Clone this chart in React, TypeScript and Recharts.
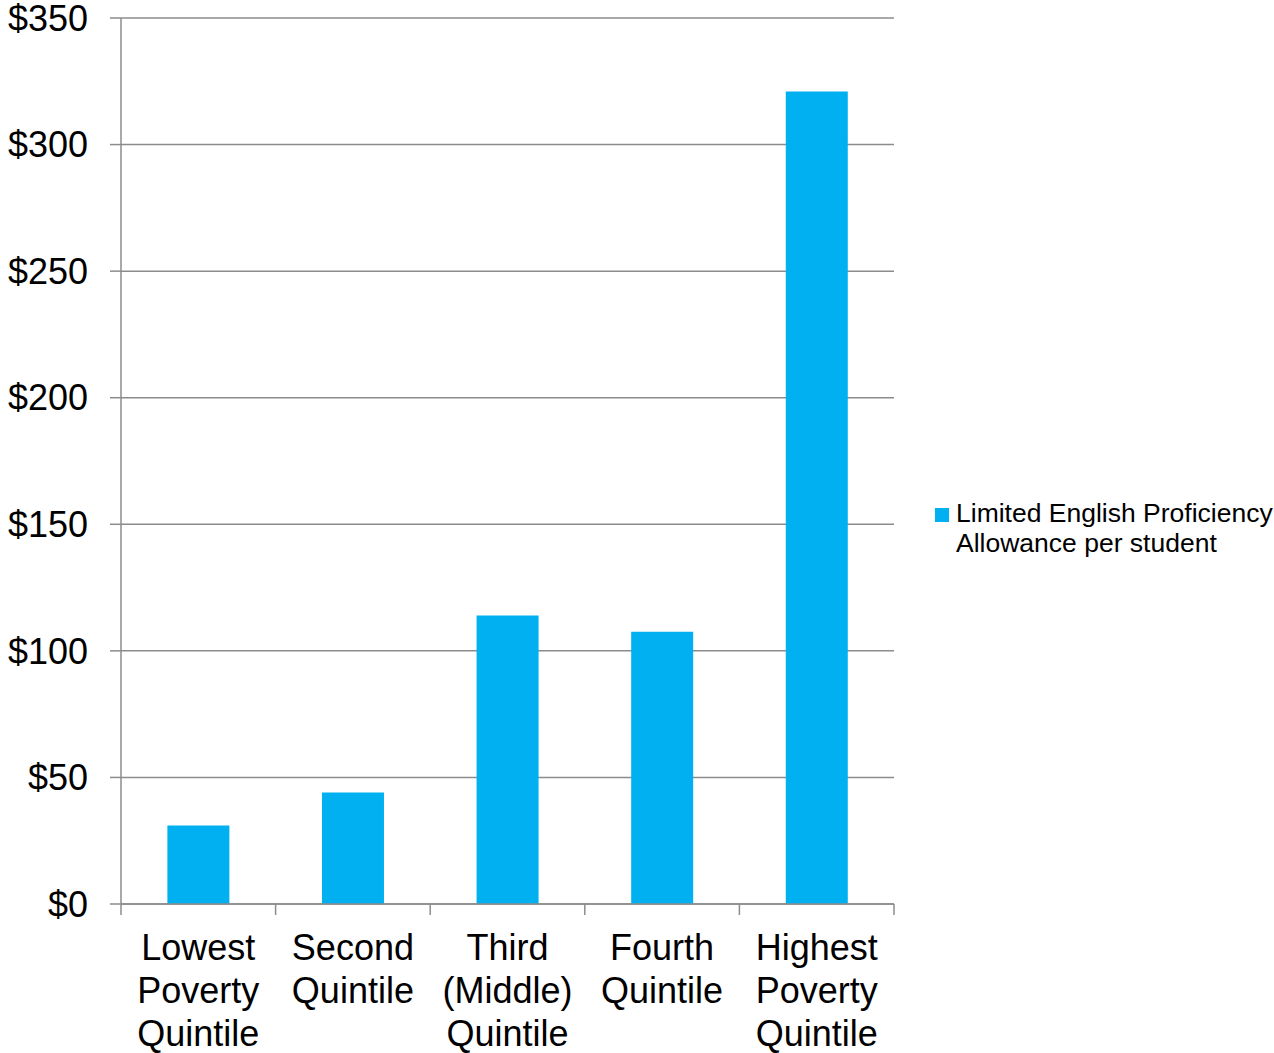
import { BarChart, Bar, XAxis, YAxis, CartesianGrid, Legend } from "recharts";

const categories = [
  "Lowest Poverty Quintile",
  "Second Quintile",
  "Third (Middle) Quintile",
  "Fourth Quintile",
  "Highest Poverty Quintile",
];
const allowance = [31, 44, 114, 107.5, 321];
const yTicks = [0, 50, 100, 150, 200, 250, 300, 350];
const seriesName = "Limited English Proficiency Allowance per student";

const data = categories.map((name, i) => ({ name, value: allowance[i] }));

const CHART_W = 1274;
const CHART_H = 1053;
const MARGIN = { top: 18, right: 380, bottom: 0, left: 0 };
const Y_AXIS_W = 121;
const X_AXIS_H = 149;
const GRID = "#8c8c8c";
const BAR = "#00B0F0";
const FONT = "'Liberation Sans', Arial, sans-serif";

// half of one category band, used to place tick marks on band edges
const halfBand = (CHART_W - MARGIN.left - MARGIN.right - Y_AXIS_W) / categories.length / 2;

const CategoryTick = (props: any) => {
  const { x, y, payload, index } = props;
  const words = String(payload.value).split(" ");
  return (
    <g>
      <line x1={x - halfBand} x2={x - halfBand} y1={y} y2={y + 11} stroke={GRID} strokeWidth={1.5} />
      {index === categories.length - 1 && (
        <line x1={x + halfBand} x2={x + halfBand} y1={y} y2={y + 11} stroke={GRID} strokeWidth={1.5} />
      )}
      <text x={x} y={y} textAnchor="middle" fill="#000" fontSize={36} fontFamily={FONT}>
        {words.map((w, i) => (
          <tspan key={i} x={x} dy={i === 0 ? 56 : 43}>
            {w}
          </tspan>
        ))}
      </text>
    </g>
  );
};

const LegendContent = () => (
  <div style={{ display: "flex", alignItems: "flex-start", fontFamily: FONT }}>
    <div style={{ width: 14, height: 14, background: BAR, marginTop: 10, marginRight: 7, flexShrink: 0 }} />
    <div style={{ width: 330, fontSize: 26.5, lineHeight: "30px", color: "#000" }}>{seriesName}</div>
  </div>
);

export default function App() {
  return (
    <div style={{ position: "absolute", left: 0, top: 0, width: CHART_W, height: CHART_H, background: "#fff" }}>
      <BarChart width={CHART_W} height={CHART_H} data={data} margin={MARGIN} barCategoryGap="30%">
        <CartesianGrid horizontal vertical={false} stroke={GRID} strokeWidth={1.5} />
        <XAxis
          dataKey="name"
          height={X_AXIS_H}
          interval={0}
          tickLine={false}
          tickSize={0}
          tickMargin={0}
          axisLine={{ stroke: GRID, strokeWidth: 1.5 }}
          tick={<CategoryTick />}
        />
        <YAxis
          width={Y_AXIS_W}
          domain={[0, 350]}
          ticks={yTicks}
          interval={0}
          tickFormatter={(v: number) => `$${v}`}
          tickSize={11}
          tickMargin={22}
          tickLine={{ stroke: GRID, strokeWidth: 1.5 }}
          axisLine={{ stroke: GRID, strokeWidth: 1.5 }}
          tick={{ fill: "#000", fontSize: 36, fontFamily: FONT }}
        />
        <Legend
          layout="horizontal"
          verticalAlign="middle"
          align="center"
          content={<LegendContent />}
          wrapperStyle={{ left: 935, top: 498, width: 339 }}
        />
        <Bar dataKey="value" name={seriesName} fill={BAR} isAnimationActive={false} />
      </BarChart>
    </div>
  );
}
